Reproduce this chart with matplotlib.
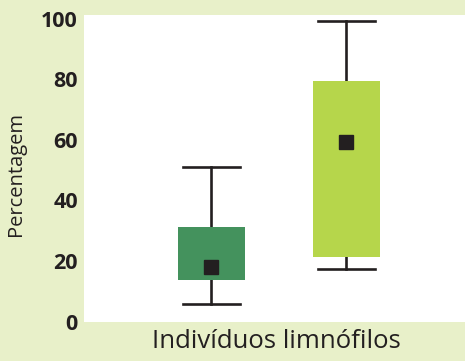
import matplotlib.pyplot as plt

# summary values for each group (percent)
groups = ["A", "B"]
q1 = [13.9, 21.2]
q3 = [31.3, 79.5]
means = [18.2, 59.4]
whislo = [5.9, 17.3]
whishi = [51.2, 99.3]
colors = ["#44925d", "#b6d64b"]

bg = "#e8f0c9"
ink = "#231f20"

plt.rcParams['font.family'] = ['Open Sans', 'DejaVu Sans']

fig = plt.figure(figsize=(4.65, 3.61), dpi=100, facecolor=bg)
ax = fig.add_axes([84 / 465, 1 - 321.7 / 361, 381 / 465, (321.7 - 15) / 361])

stats = []
for i in range(len(groups)):
    stats.append({
        "label": groups[i],
        "q1": q1[i], "q3": q3[i], "med": means[i], "mean": means[i],
        "whislo": whislo[i], "whishi": whishi[i], "fliers": [],
    })

bp = ax.bxp(stats, positions=[1, 2], widths=0.5, capwidths=0.42,
            patch_artist=True, showmeans=True, showfliers=False,
            boxprops=dict(linewidth=0),
            whiskerprops=dict(color=ink, linewidth=1.9),
            capprops=dict(color=ink, linewidth=1.9),
            medianprops=dict(visible=False),
            meanprops=dict(marker='s', markersize=10, markerfacecolor=ink,
                           markeredgecolor=ink))
for patch, c in zip(bp['boxes'], colors):
    patch.set_facecolor(c)
    patch.set_zorder(3)
for m in bp['means']:
    m.set_zorder(4)

ax.set_xlim(0.056, 2.88)
ax.set_ylim(0, 101.2)
ax.set_yticks([0, 20, 40, 60, 80, 100])
ax.set_xticks([])
for s in ax.spines.values():
    s.set_visible(False)
ax.tick_params(axis='y', length=0, pad=4.5, labelsize=15.5, labelcolor=ink)
for t in ax.get_yticklabels():
    t.set_fontweight('bold')

fig.text(276.5 / 465, 1 - 341 / 361, "Indivíduos limnófilos",
         ha='center', va='center', fontsize=18.5, color=ink)
fig.text(16 / 465, 1 - 174 / 361, "Percentagem", rotation=90,
         ha='center', va='center', fontsize=14.5, color=ink)

fig.savefig("out.png", dpi=100, facecolor=bg)
